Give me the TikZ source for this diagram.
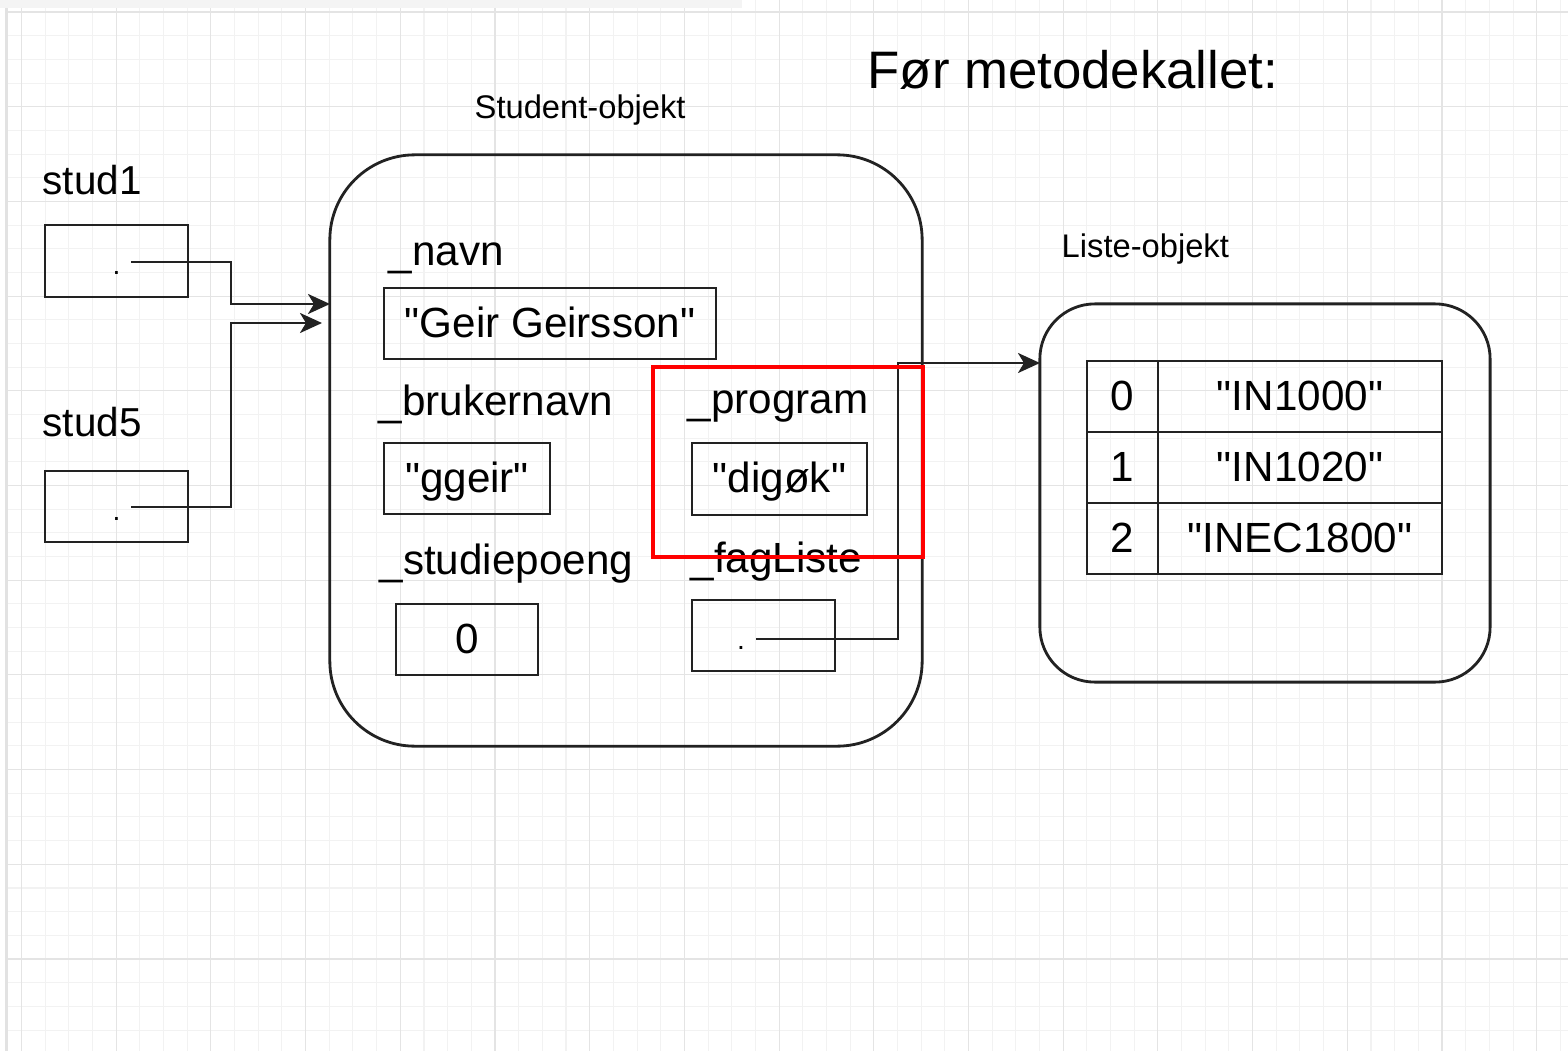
\documentclass[tikz,border=0pt]{standalone}
\usepackage{fontspec}
\setmainfont{Liberation Sans}[Ligatures=TeXOff]
\usetikzlibrary{arrows.meta, positioning, calc}

\definecolor{rutenett}{HTML}{F2F2F2}
\definecolor{rutenettmork}{HTML}{E4E4E4}
\definecolor{kant}{HTML}{E2E2E2}
\definecolor{topplinje}{HTML}{F4F4F4}
\definecolor{strek}{HTML}{222222}

\begin{document}
\begin{tikzpicture}[x=0.01cm, y=-0.01cm,
    felt/.style={draw=strek, line width=0.75pt, inner sep=0pt, text height=9pt, text depth=1.3pt, font=\fontsize{12}{14}\selectfont},
    prikk/.style={felt, font=\fontsize{8}{10}\selectfont},
    navn/.style={anchor=base west, inner sep=0pt, font=\fontsize{12}{14}\selectfont},
    objnavn/.style={anchor=base west, inner sep=0pt, font=\fontsize{9.3}{11}\selectfont},
    objekt/.style={draw=strek, line width=0.8pt, rounded corners=0.85cm},
    celle/.style={felt, minimum height=0.71cm},
    ref/.style={strek, line width=0.75pt, -{Stealth[length=0.22cm, width=0.2cm, inset=0.06cm]}}]
                \useasboundingbox (0,0) rectangle (1568,1051);

                % Rutenett
                \foreach \i in {0,...,65}
                    \draw[rutenett, line width=0.3pt] ({21.5+23.675*\i},0) -- ({21.5+23.675*\i},1051);
                \foreach \j in {0,...,43}
                    \draw[rutenett, line width=0.3pt] (8,{12+23.675*\j}) -- (1568,{12+23.675*\j});
                \foreach \i in {0,...,16}
                    \draw[rutenettmork, line width=0.3pt] ({21.5+94.7*\i},0) -- ({21.5+94.7*\i},1051);
                \foreach \j in {0,...,10}
                    \draw[rutenettmork, line width=0.3pt] (8,{12+94.7*\j}) -- (1568,{12+94.7*\j});
                \fill[topplinje] (0,0) rectangle (742,8);
                \fill[kant] (5,8) rectangle (8,1051);

                % Overskrift
                \node[anchor=base west, inner sep=0pt, font=\fontsize{15}{18}\selectfont] (tittel) at (867,88) {Før metodekallet:};

                % Variabler
                \node[navn, font=\fontsize{11.5}{14}\selectfont] (stud1) at (42,194) {stud1};
                \node[prikk, minimum width=1.43cm, minimum height=0.72cm] (boks1) at (116.5,261) {.};
                \node[navn, font=\fontsize{11.5}{14}\selectfont] (stud5) at (42,436) {stud5};
                \node[prikk, minimum width=1.43cm, minimum height=0.71cm] (boks5) at (116.5,506.5) {.};

                % Student-objekt
                \node[objnavn] (studentnavn) at (474,118) {Student-objekt};
                \node[objekt, minimum width=5.92cm, minimum height=5.91cm] (student) at (626,450.5) {};
                \node[navn] (navnlabel) at (388,265) {\_navn};
                \node[felt, minimum width=3.32cm, minimum height=0.71cm] (navn) at (550,323.5) {"Geir Geirsson"};
                \node[navn] (brukerlabel) at (378,415) {\_brukernavn};
                \node[felt, minimum width=1.66cm, minimum height=0.71cm] (bruker) at (467,478.5) {"ggeir"};
                \node[navn] (proglabel) at (687,413) {\_program};
                \node[felt, minimum width=1.75cm, minimum height=0.72cm] (program) at (779.5,479) {"digøk"};
                \node[navn] (poenglabel) at (379,574) {\_studiepoeng};
                \node[felt, minimum width=1.42cm, minimum height=0.71cm] (poeng) at (467,639.5) {0};
                \node[navn] (faglabel) at (690,572) {\_fagListe};
                \node[felt, minimum width=1.43cm, minimum height=0.71cm] (fag) at (763.5,635.5) {};
                \node[prikk, draw=none] (fagprikk) at (741,635.5) {.};

                % Liste-objekt
                \node[objnavn] (listenavn) at (1061,257) {Liste-objekt};
                \node[objekt, rounded corners=0.55cm, minimum width=4.5cm, minimum height=3.78cm] (liste) at (1265,493) {};
                \foreach \nr/\kode in {0/"IN1000", 1/"IN1020", 2/"INEC1800"} {
                    \node[celle, minimum width=0.71cm] (indeks\nr) at (1122.5,{396.5+71*\nr}) {\nr};
                    \node[celle, minimum width=2.84cm] (verdi\nr) at (1300,{396.5+71*\nr}) {\kode};
                }

                % Referanser
                \coordinate (ut1) at (131,262);
                \coordinate (inn1) at (330,304);
                \coordinate (ut5) at (131,507);
                \coordinate (inn5) at (322,323);
                \coordinate (fagut) at (756,639);
                \coordinate (listeinn) at (1040,363);
                \draw[ref] (ut1) -- ++(100,0) |- (inn1);
                \draw[ref] (ut5) -- ++(100,0) |- (inn5);
                \draw[ref] (fagut) -- ++(142,0) |- (listeinn);

                % Markering
                \draw[red, line width=1.4pt] (653,367) rectangle (923,557);
\end{tikzpicture}
\end{document}
